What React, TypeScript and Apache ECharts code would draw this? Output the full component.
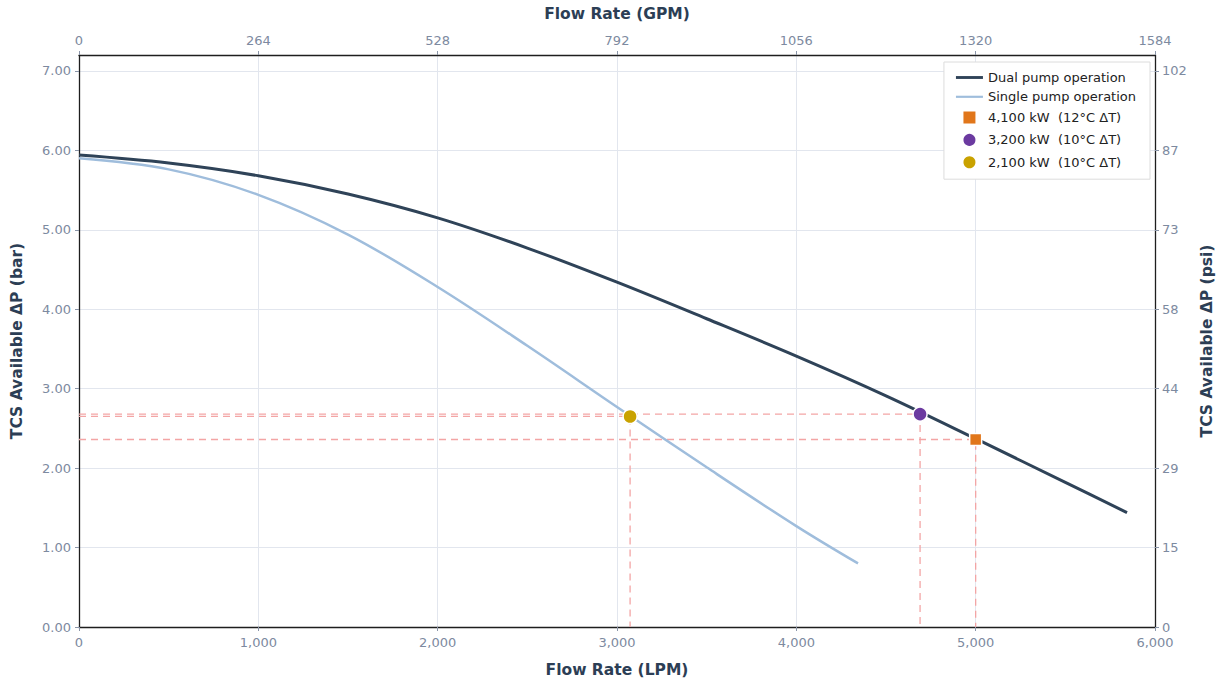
import React, { useEffect, useRef } from "react";
import * as echarts from "echarts";

const dualFlow = [0, 500, 1000, 1500, 2000, 2500, 3000, 3500, 4000, 4500, 5000, 5500, 5844];
const dualDp = [5.94, 5.84, 5.68, 5.45, 5.15, 4.77, 4.34, 3.88, 3.41, 2.91, 2.37, 1.82, 1.44];

const singleFlow = [0, 500, 1000, 1500, 2000, 2500, 3000, 3500, 4000, 4344];
const singleDp = [5.9, 5.76, 5.44, 4.94, 4.28, 3.54, 2.77, 2.01, 1.27, 0.8];

const pointNames = ["4,100 kW  (12°C ΔT)", "3,200 kW  (10°C ΔT)", "2,100 kW  (10°C ΔT)"];
const pointFlow = [5000, 4690, 3073];
const pointDp = [2.36, 2.68, 2.65];
const pointSymbols = ["rect", "circle", "circle"];
const pointColors = ["#e1761a", "#6b3aa0", "#c9a200"];

const FONT = "DejaVu Sans";
const TICK = "#7d8aa0";
const TITLE = "#2c3e55";

export default function App() {
  const ref = useRef<HTMLDivElement>(null);
  useEffect(() => {
    document.body.style.margin = "0";
    const chart = echarts.init(ref.current!, null, { renderer: "svg" });
    const axisLine = { show: true, onZero: false, lineStyle: { color: "#1e1e1e", width: 1.3 } };
    const axisTick = { show: true, length: 4, lineStyle: { color: "#8a95a8" } };
    const splitLine = { show: true, lineStyle: { color: "#e2e6ee", width: 1 } };
    const nameStyle = { fontFamily: FONT, fontSize: 15.5, fontWeight: "bold", color: TITLE };
    const labelStyle = { fontFamily: FONT, fontSize: 13, color: TICK };

    const series: any[] = [];
    pointNames.forEach((n, i) => {
      series.push({
        type: "line",
        name: "guide" + i,
        data: [
          [0, pointDp[i]],
          [pointFlow[i], pointDp[i]],
          [pointFlow[i], 0],
        ],
        showSymbol: false,
        symbol: "none",
        lineStyle: { color: "#f3a5a5", width: 1.3, type: [7, 5] },
        z: 1,
        silent: true,
      });
    });
    series.push({
      type: "line",
      name: "Dual pump operation",
      data: dualFlow.map((x, i) => [x, dualDp[i]]),
      smooth: 0.35,
      showSymbol: false,
      symbol: "none",
      color: "#2f4358",
      lineStyle: { color: "#2f4358", width: 3 },
      z: 3,
    });
    series.push({
      type: "line",
      name: "Single pump operation",
      data: singleFlow.map((x, i) => [x, singleDp[i]]),
      smooth: 0.35,
      showSymbol: false,
      symbol: "none",
      color: "#9fbddc",
      lineStyle: { color: "#9fbddc", width: 2.5 },
      z: 2,
    });
    pointNames.forEach((n, i) => {
      series.push({
        type: "scatter",
        name: n,
        data: [[pointFlow[i], pointDp[i]]],
        symbol: pointSymbols[i],
        symbolSize: pointSymbols[i] === "rect" ? 12 : 14,
        itemStyle: { color: pointColors[i], borderColor: "#fff", borderWidth: 1.5, opacity: 1 },
        z: 5,
      });
    });

    const squarePath = "path://M0 0h10v10H0z";

    chart.setOption({
      animation: false,
      textStyle: { fontFamily: FONT },
      grid: { left: 79, right: 70, top: 55, bottom: 56, containLabel: false },
      legend: {
        orient: "vertical",
        right: 75,
        top: 62,
        backgroundColor: "#fff",
        borderColor: "#dcdcdc",
        borderWidth: 1,
        borderRadius: 0,
        padding: [9, 14, 9, 12],
        itemGap: 6.3,
        itemWidth: 27,
        itemHeight: 14,
        textStyle: { fontFamily: FONT, fontSize: 13, color: "#222" },
        data: [
          { name: "Dual pump operation", icon: "path://M0 0h30v3.2H0z" },
          { name: "Single pump operation", icon: "path://M0 0h30v2.4H0z" },
          { name: pointNames[0], icon: squarePath },
          { name: pointNames[1], icon: "circle" },
          { name: pointNames[2], icon: "circle" },
        ],
      },
      xAxis: [
        {
          type: "value",
          position: "bottom",
          min: 0,
          max: 6000,
          interval: 1000,
          name: "Flow Rate (LPM)",
          nameLocation: "middle",
          nameGap: 35,
          nameTextStyle: nameStyle,
          axisLine,
          axisTick,
          splitLine,
          axisLabel: {
            ...labelStyle,
            margin: 9,
            formatter: (v: number) => v.toLocaleString("en-US"),
          },
        },
        {
          type: "value",
          position: "top",
          min: 0,
          max: 6000,
          interval: 1000,
          name: "Flow Rate (GPM)",
          nameLocation: "middle",
          nameGap: 33,
          nameTextStyle: nameStyle,
          axisLine,
          axisTick,
          splitLine: { show: false },
          axisLabel: {
            ...labelStyle,
            margin: 8,
            formatter: (v: number) => String(Math.round(v * 0.264)),
          },
        },
      ],
      yAxis: [
        {
          type: "value",
          position: "left",
          min: 0,
          max: 7.2,
          interval: 1,
          name: "TCS Available ΔP (bar)",
          nameLocation: "middle",
          nameGap: 54,
          nameTextStyle: nameStyle,
          axisLine,
          axisTick,
          splitLine,
          axisLabel: {
            ...labelStyle,
            margin: 8,
            showMaxLabel: false,
            formatter: (v: number) => (Math.abs(v - Math.round(v)) < 1e-6 ? v.toFixed(2) : ""),
          },
        },
        {
          type: "value",
          position: "right",
          min: 0,
          max: 7.2,
          interval: 1,
          name: "TCS Available ΔP (psi)",
          nameLocation: "middle",
          nameGap: 44,
          nameTextStyle: nameStyle,
          axisLine,
          axisTick,
          splitLine: { show: false },
          axisLabel: {
            ...labelStyle,
            margin: 7,
            showMaxLabel: false,
            formatter: (v: number) =>
              Math.abs(v - Math.round(v)) < 1e-6 ? String(Math.round(v * 14.5038)) : "",
          },
        },
      ],
      series,
    });
    return () => chart.dispose();
  }, []);
  return <div ref={ref} style={{ width: 1225, height: 683 }} />;
}
